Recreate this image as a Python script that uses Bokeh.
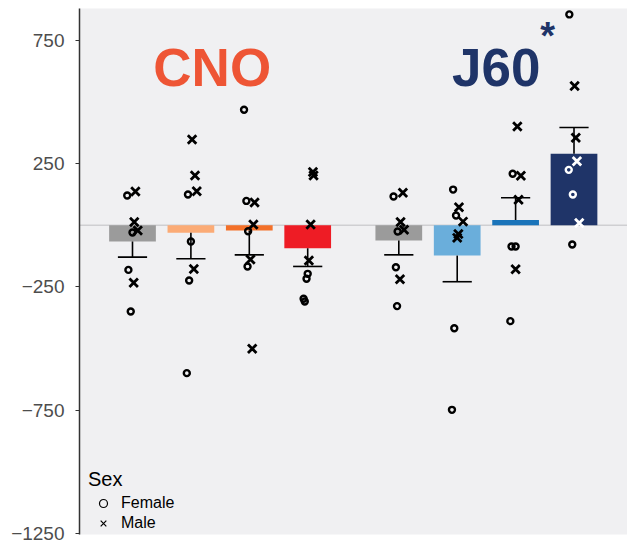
from bokeh.plotting import figure
from bokeh.models import (Range1d, FixedTicker, Span, Label, Legend, LegendItem,
                          ColumnDataSource)
from bokeh.embed import file_html
from bokeh.resources import INLINE

# ---------------- data ----------------
treatments = ["CNO", "CNO", "CNO", "CNO", "J60", "J60", "J60", "J60"]
dose_levels = [1, 2, 3, 4, 1, 2, 3, 4]
bar_means = [-66, -30, -21, -93, -62, -123, 22, 290]
bar_sems = [63, 106, 99, 74, 58, 106, 90, 107]

female_values = [
    [121, -29, -181, -350],
    [125, -66, -224, -600],
    [469, 99, -24, -167],
    [-197, -217, -298, -309],
    [117, -25, -170, -328],
    [145, 40, -418, -749],
    [209, -86, -86, -389],
    [856, 225, 125, -78],
]
male_values = [
    [137, 13, -21, -233],
    [348, 202, 138, -177],
    [93, 3, -139, -501],
    [216, 202, 3, -143],
    [132, 13, -18, -219],
    [73, 15, -35, -51],
    [401, 201, 104, -178],
    [565, 355, 260, 9],
]
# horizontal jitter of the dots (fraction of bar spacing)
female_jitter = [
    [-0.09, 0.0, -0.07, -0.03],
    [-0.05, 0.0, -0.03, -0.07],
    [-0.09, -0.05, -0.02, -0.03],
    [0.0, -0.02, -0.07, -0.05],
    [-0.09, -0.02, -0.05, -0.03],
    [-0.07, -0.02, -0.05, -0.09],
    [-0.05, -0.07, 0.0, -0.09],
    [-0.08, -0.09, -0.02, -0.03],
]
male_jitter = [
    [0.05, 0.03, 0.09, 0.02],
    [0.02, 0.07, 0.10, 0.05],
    [0.09, 0.07, 0.02, 0.05],
    [0.09, 0.10, 0.05, 0.02],
    [0.07, 0.03, 0.09, 0.02],
    [0.03, 0.10, 0.02, 0.0],
    [0.03, 0.09, 0.05, 0.0],
    [0.01, 0.03, 0.05, 0.09],
]
bar_colors = ["#9B9B9B", "#FBAB76", "#F37029", "#EE1C25",
              "#9B9B9B", "#6AAEDB", "#1A74BA", "#1F3468"]
y_ticks = [750, 250, -250, -750, -1250]

# ---------------- layout helpers ----------------
GROUP_GAP = 0.56
pos = [i + 1 + (GROUP_GAP if treatments[i] == "J60" else 0) for i in range(len(bar_means))]
ends = [m + (s if m >= 0 else -s) for m, s in zip(bar_means, bar_sems)]

FONT = "Liberation Sans"

p = figure(width=627, height=543, output_backend="svg", toolbar_location=None,
           x_range=Range1d(0.0925, 9.476), y_range=Range1d(-1255, 880),
           min_border_left=79, min_border_right=0, min_border_top=8,
           min_border_bottom=9)
p.background_fill_color = "#F0F0F2"
p.border_fill_color = "white"
p.outline_line_color = None
p.grid.visible = False
p.xaxis.visible = False

ax = p.yaxis[0]
ax.ticker = FixedTicker(ticks=y_ticks)
ax.major_label_overrides = {t: (("\u2212" + str(abs(t))) if t < 0 else str(t)) for t in y_ticks}
ax.major_label_text_font = FONT
ax.major_label_text_font_size = "19px"
ax.major_label_text_color = "#4D4D4D"
ax.major_label_standoff = 11
ax.major_tick_out = 4
ax.major_tick_in = 0
ax.minor_tick_out = 0
ax.minor_tick_in = 0
ax.axis_line_color = "#333333"
ax.axis_line_width = 1.5
ax.major_tick_line_color = "#333333"
ax.major_tick_line_width = 1.2

p.add_layout(Span(location=0, dimension="width", line_color="#CFCFD2",
                  line_width=1.5, level="underlay"))

# bars
p.vbar(x=pos, top=bar_means, bottom=0, width=0.8, fill_color=bar_colors, line_color=None)

# error bars (one-sided, away from zero)
p.segment(x0=pos, y0=bar_means, x1=pos, y1=ends, line_color="black", line_width=1.6)
p.segment(x0=[x - 0.25 for x in pos], y0=ends, x1=[x + 0.25 for x in pos], y1=ends,
          line_color="black", line_width=1.6)

# points
def build(values, jitter):
    xs, ys, cs = [], [], []
    for i, (vals, jit) in enumerate(zip(values, jitter)):
        for v, j in zip(vals, jit):
            xs.append(pos[i] + j)
            ys.append(v)
            inside = (bar_colors[i] == "#1F3468") and (0 <= v <= bar_means[i])
            cs.append("white" if inside else "black")
    return ColumnDataSource(dict(x=xs, y=ys, c=cs))

fsrc = build(female_values, female_jitter)
msrc = build(male_values, male_jitter)
p.scatter(x="x", y="y", source=fsrc, marker="circle", size=6, fill_color=None,
          line_color="c", line_width=2.4)
p.scatter(x="x", y="y", source=msrc, marker="x", size=12, line_color="c", line_width=2.8)

# titles
p.add_layout(Label(x=2.365, y=640, text="CNO", text_align="center",
                   text_baseline="alphabetic", text_font=FONT, text_font_style="bold",
                   text_font_size="53px", text_color="#EE5535"))
p.add_layout(Label(x=7.23, y=640, text="J60", text_align="center",
                   text_baseline="alphabetic", text_font=FONT, text_font_style="bold",
                   text_font_size="53px", text_color="#1F3468"))
p.add_layout(Label(x=7.98, y=768, text="*", text_align="left",
                   text_baseline="alphabetic", text_font=FONT, text_font_style="bold",
                   text_font_size="38px", text_color="#1F3468"))

# legend (key glyphs drawn thin, from off-range placeholder points)
leg_f = p.scatter(x=[-100], y=[-100000], marker="circle", size=7, fill_color=None,
                  line_color="black", line_width=1.2)
leg_m = p.scatter(x=[-100], y=[-100000], marker="x", size=13, line_color="black",
                  line_width=1.2)
legend = Legend(items=[LegendItem(label="Female", renderers=[leg_f]),
                       LegendItem(label="Male", renderers=[leg_m])],
                title="Sex", location=(9, 1), padding=0, margin=0, spacing=0,
                glyph_width=30, glyph_height=20, label_height=20, label_standoff=3,
                label_text_font=FONT, label_text_font_size="16px",
                label_text_color="black", title_text_font=FONT,
                title_text_font_size="20px", title_text_font_style="normal",
                title_text_color="black", title_standoff=2,
                background_fill_alpha=0, border_line_alpha=0)
p.add_layout(legend)

open("out.html", "w").write(file_html(p, INLINE))
